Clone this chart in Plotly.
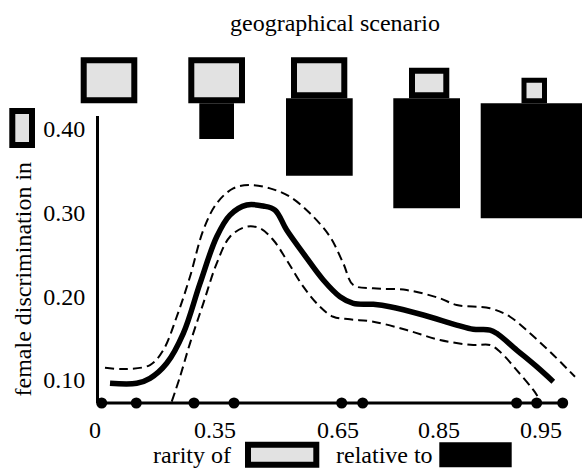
import plotly.graph_objects as go

# ---------------- data ----------------
# x is a position along the schematic rarity axis (0..100 = axis start..end)
mean_x = [2.37, 8.13, 10.99, 14.59, 18.17, 21.77, 25.37, 28.23, 31.83, 35.41, 37.93,
          40.45, 44.03, 48.34, 51.94, 54.81, 59.12, 62.72, 69.89, 77.09, 80.67,
          84.27, 85.71, 90.02, 94.33, 97.91]
mean_y = [0.0961, 0.0961, 0.1020, 0.1200, 0.1558, 0.2155, 0.2712, 0.2971, 0.3091, 0.3079, 0.3031,
          0.2792, 0.2514, 0.2195, 0.1995, 0.1916, 0.1904, 0.1876, 0.1777, 0.1657, 0.1606,
          0.1597, 0.1558, 0.1358, 0.1159, 0.0980]

upper_x = [1.29, 5.24, 10.99, 13.86, 16.75, 19.61, 22.48, 25.37, 28.94, 32.54, 36.85,
           41.16, 45.47, 49.78, 52.65, 54.81, 59.12, 66.31, 73.49, 77.09, 84.27,
           88.58, 92.89, 97.20, 102.59]
upper_y = [0.1147, 0.1131, 0.1179, 0.1358, 0.1756, 0.2234, 0.2792, 0.3111, 0.3290, 0.3330, 0.3290,
           0.3190, 0.2992, 0.2712, 0.2394, 0.2135, 0.2096, 0.2075, 0.1976, 0.1896, 0.1857,
           0.1756, 0.1558, 0.1338, 0.1039]

lower_x = [15.67, 17.46, 19.61, 22.48, 25.37, 28.23, 31.83, 34.70, 37.56, 40.45, 44.03,
           47.63, 50.50, 54.09, 59.12, 66.31, 73.49, 80.67, 84.27, 86.42, 90.02,
           93.60, 95.04]
lower_y = [0.0741, 0.1039, 0.1438, 0.1916, 0.2394, 0.2712, 0.2832, 0.2812, 0.2673, 0.2434, 0.2115,
           0.1876, 0.1756, 0.1725, 0.1697, 0.1597, 0.1478, 0.1418, 0.1418, 0.1338, 0.1119,
           0.0881, 0.0761]

scenario_x = [0.58, 8.04, 20.47, 29.09, 52.30, 56.83, 90.00, 94.33, 99.94]

x_tick_pos = [0, 25.86, 52.37, 74.14, 96.12]
x_tick_labels = ["0", "0.35", "0.65", "0.85", "0.95"]
y_tick_vals = [0.10, 0.20, 0.30, 0.40]
y_tick_labels = ["0.10", "0.20", "0.30", "0.40"]

# ---------------- layout geometry ----------------
W, H = 582, 469
L, R, T, B = 99, 3, 116, 66
PW, PH = W - L - R, H - T - B
X_RANGE = [0, 103.45]
Y_RANGE = [0.07252, 0.4155]
FONT = "Liberation Serif"
GRAY = "#e2e2e2"


def px(xp):
    return (xp - L) / PW


def py(yp):
    return (H - B - yp) / PH


shapes = []


def gray_box(x0, y0, x1, y1, lw):
    shapes.append(dict(type="rect", xref="paper", yref="paper",
                       x0=px(x0 + lw / 2), x1=px(x1 - lw / 2),
                       y0=py(y0 + lw / 2), y1=py(y1 - lw / 2),
                       line=dict(color="black", width=lw), fillcolor=GRAY))


def black_box(x0, y0, x1, y1):
    shapes.append(dict(type="rect", xref="paper", yref="paper",
                       x0=px(x0), x1=px(x1), y0=py(y0), y1=py(y1),
                       line=dict(width=0), fillcolor="black"))


# scenario icons (pixel geometry of the schematic)
gray_box(80.7, 57.3, 137.3, 103.3, 6)
black_box(199.3, 103.3, 234, 139)
gray_box(188.3, 57.3, 245, 103.3, 6)
black_box(286, 98.3, 352.7, 175.7)
gray_box(291, 57.3, 347.3, 98.3, 6)
black_box(393.3, 98.3, 460, 208.3)
gray_box(409, 67.7, 449.3, 98.3, 6)
black_box(480.7, 103.3, 582, 218.3)
gray_box(521.5, 77.7, 547, 103.3, 5)
# y-label icon
gray_box(9.3, 108, 35, 148, 6)
# x-label icons
gray_box(245, 441.7, 319.3, 467.7, 6)
black_box(439.3, 442.3, 511.7, 467.3)

# x axis baseline
shapes.append(dict(type="line", xref="x", yref="paper", x0=0, x1=scenario_x[-1], y0=0, y1=0,
                   line=dict(color="black", width=3)))

fig = go.Figure()
fig.add_trace(go.Scatter(x=upper_x, y=upper_y, mode="lines", line_shape="spline",
                         line=dict(color="black", width=2, dash="9px,5px"), hoverinfo="skip"))
fig.add_trace(go.Scatter(x=lower_x, y=lower_y, mode="lines", line_shape="spline",
                         line=dict(color="black", width=2, dash="9px,5px"), hoverinfo="skip"))
fig.add_trace(go.Scatter(x=mean_x, y=mean_y, mode="lines", line_shape="spline",
                         line=dict(color="black", width=5.5), hoverinfo="skip"))
fig.add_trace(go.Scatter(x=scenario_x, y=[Y_RANGE[0]] * len(scenario_x), mode="markers",
                         marker=dict(color="black", size=11, symbol="circle"),
                         cliponaxis=False, hoverinfo="skip"))

annotations = [
    dict(text="geographical scenario", x=px(335), y=py(23), xref="paper", yref="paper",
         xanchor="center", yanchor="middle", showarrow=False, font=dict(size=24)),
    dict(text="female discrimination in", x=px(22), y=py(279.5), xref="paper", yref="paper",
         xanchor="center", yanchor="middle", textangle=-90, showarrow=False, font=dict(size=24)),
    dict(text="rarity of", x=px(151.7), y=py(454.5), xref="paper", yref="paper",
         xanchor="left", yanchor="middle", showarrow=False, borderpad=0, font=dict(size=24)),
    dict(text="relative to", x=px(335), y=py(454.5), xref="paper", yref="paper",
         xanchor="left", yanchor="middle", showarrow=False, borderpad=0, font=dict(size=24)),
]

fig.update_layout(
    width=W, height=H,
    margin=dict(l=L, r=R, t=T, b=B, pad=0),
    paper_bgcolor="white", plot_bgcolor="white",
    showlegend=False,
    font=dict(family=FONT, size=24, color="black"),
    shapes=shapes,
    annotations=annotations,
    xaxis=dict(range=X_RANGE, showgrid=False, zeroline=False, showline=False,
               tickmode="array", tickvals=x_tick_pos, ticktext=x_tick_labels,
               ticks="", ticklabelshift=-4, ticklabelstandoff=10,
               tickfont=dict(family=FONT, size=24), fixedrange=True),
    yaxis=dict(range=Y_RANGE, showgrid=False, zeroline=False, showline=True,
               linecolor="black", linewidth=3,
               tickmode="array", tickvals=y_tick_vals, ticktext=y_tick_labels,
               ticks="", ticklabelstandoff=6,
               tickfont=dict(family=FONT, size=24), fixedrange=True),
)

fig.write_html("out.html", config={"displayModeBar": False},
               post_script="document.body.style.margin='0';document.body.style.overflow='hidden';")
